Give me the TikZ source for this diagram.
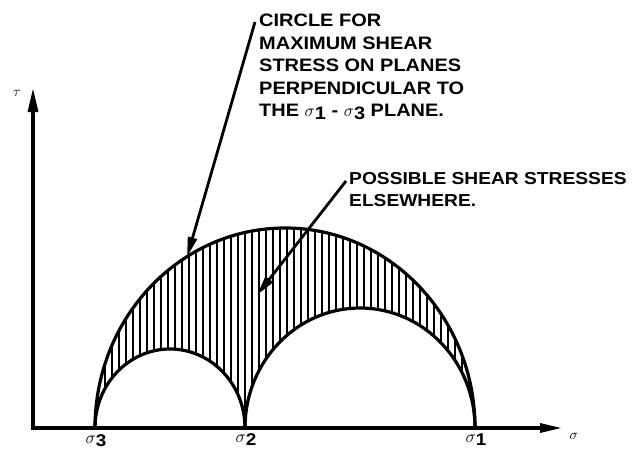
\documentclass[tikz,border=0pt]{standalone}
\usepackage{fontspec}
\setmainfont{Liberation Sans}
\newfontfamily\lblfont[FakeStretch=1.11]{Liberation Sans}
\usetikzlibrary{arrows.meta}
\newcommand\sgm[1]{\(\sigma\)\raisebox{-3pt}{#1}}
\begin{document}
\begin{tikzpicture}[x=1pt,y=-1pt,
  axis/.style={line width=3.2pt, line join=miter},
  circ/.style={line width=3.2pt},
  hatch/.style={line width=2.2pt},
  lbl/.style={font=\lblfont\bfseries\fontsize{18}{22.5}\selectfont, align=left, inner sep=0pt},
  lbltwo/.style={font=\lblfont\bfseries\fontsize{17.3}{22.5}\selectfont, align=left, inner sep=0pt},
  sig/.style={font=\lblfont\bfseries\fontsize{17}{18}\selectfont, inner sep=0pt},
  ptr/.style={line width=2.8pt, -{Triangle[length=20pt,width=9pt]}},
]
\useasboundingbox (0,0) rectangle (637,451);
\coordinate (S3) at (95,428);
\coordinate (S2) at (245,428);
\coordinate (S1) at (475,428);
\coordinate (O) at (33,428);
\coordinate (Xend) at (562,428);
\coordinate (Yend) at (33,88);
% hatching
\begin{scope}
\clip (S3) arc[start angle=180,end angle=360,x radius=190,y radius=200]
  arc[start angle=360,end angle=180,x radius=115,y radius=120]
  arc[start angle=360,end angle=180,x radius=75,y radius=79] -- cycle;
\foreach \x in {98,105,...,476} \draw[hatch] (\x,220) -- (\x,432);
\end{scope}
% circles
\draw[circ] (S3) arc[start angle=180,end angle=360,x radius=190,y radius=200];
\draw[circ] (S3) arc[start angle=180,end angle=360,x radius=75,y radius=79];
\draw[circ] (S2) arc[start angle=180,end angle=360,x radius=115,y radius=120];
% axes
\draw[axis,{Triangle[length=24pt,width=10pt]}-{Triangle[length=22pt,width=9pt]}] (Yend) -- (O) -- (Xend);
\node[font=\Large] (tau) at (17,93) {\(\tau\)};
\node[font=\Large] (sig) at (574,436) {\(\sigma\)};
\node[sig, anchor=north] (l3) at (96,434) {\sgm{3}};
\node[sig, anchor=north] (l2) at (246,433) {\sgm{2}};
\node[sig, anchor=north] (l1) at (476,434) {\sgm{1}};
% labels
\node[lbl, anchor=north west] (t1) at (259,14) {CIRCLE FOR\\MAXIMUM SHEAR\\STRESS ON PLANES\\PERPENDICULAR TO\\THE \sgm{1} - \sgm{3} PLANE.};
\node[lbltwo, anchor=north west] (t2) at (349,172) {POSSIBLE SHEAR STRESSES\\ELSEWHERE.};
\coordinate (a1s) at (255,22);
\coordinate (a1e) at (187,257);
\coordinate (a2s) at (346,181);
\coordinate (a2e) at (257,295);
\draw[ptr] (a1s) -- (a1e);
\draw[ptr] (a2s) -- (a2e);
\end{tikzpicture}
\end{document}
